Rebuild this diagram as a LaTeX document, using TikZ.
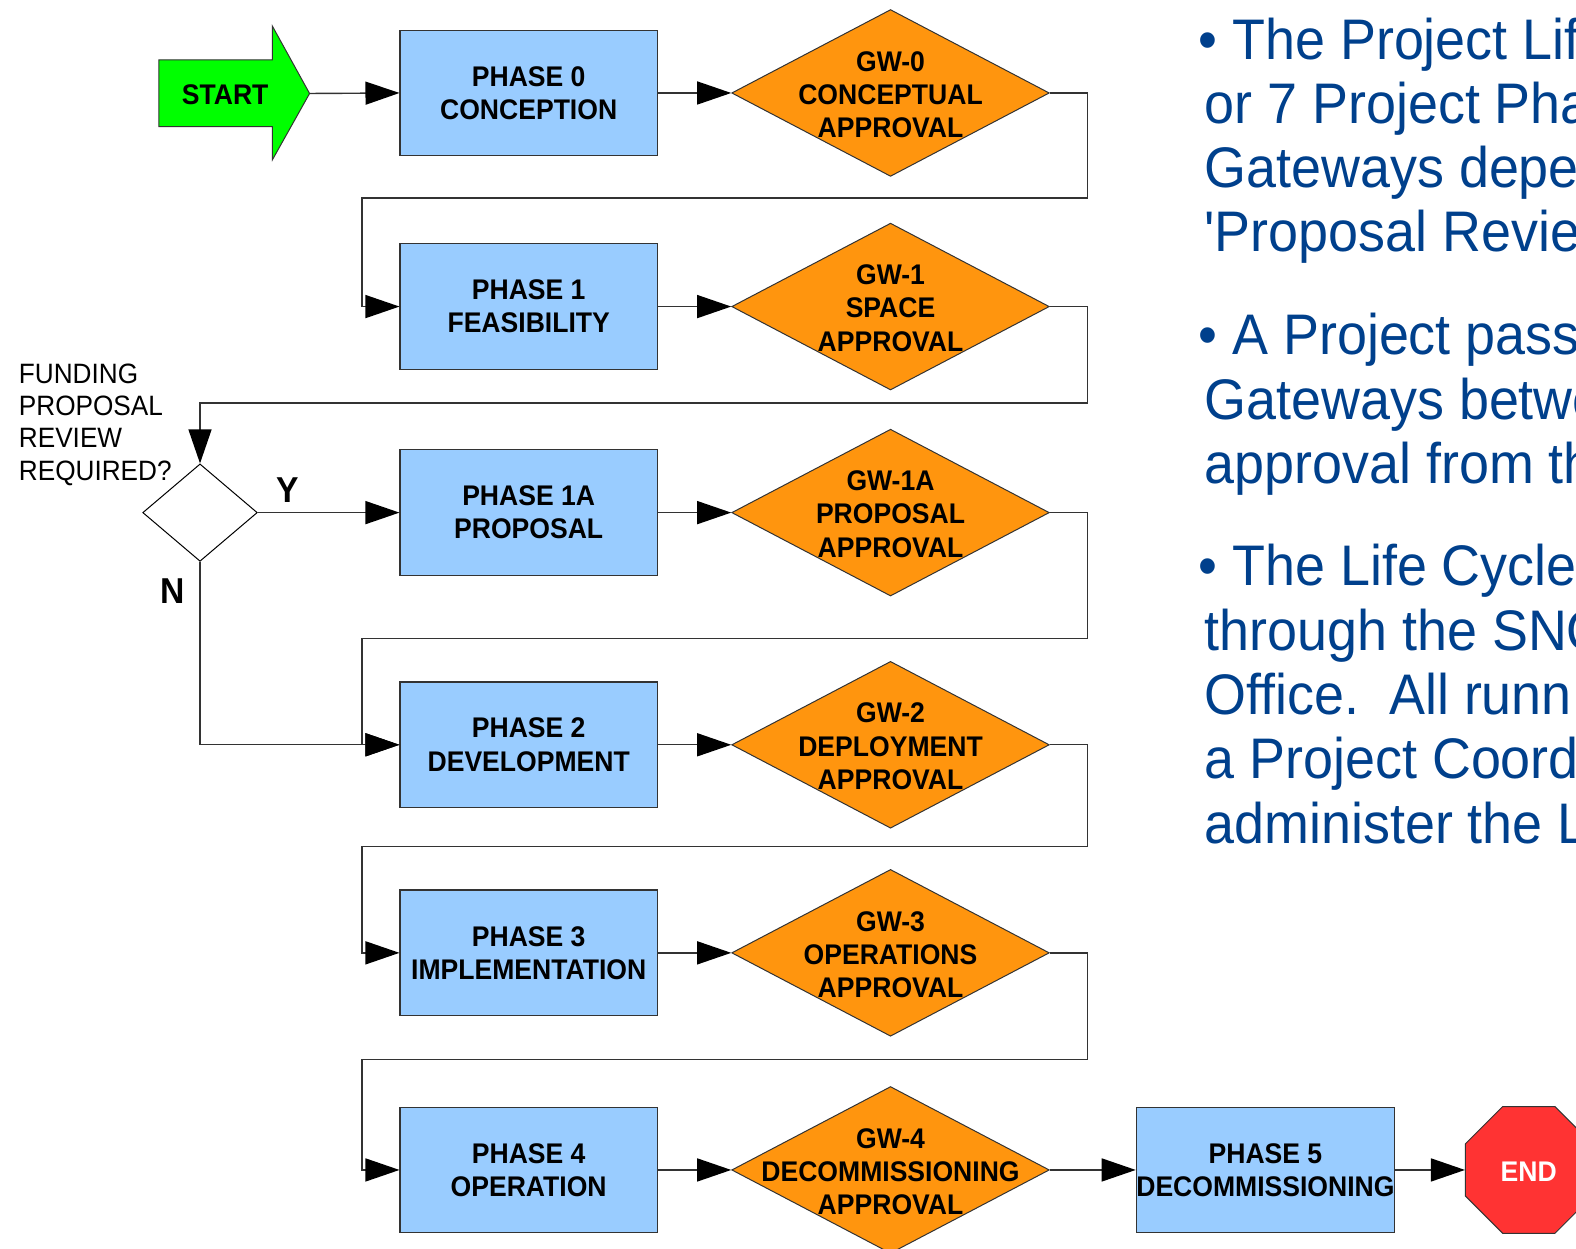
\documentclass[tikz,border=0pt]{standalone}
\usepackage{fontspec}
\usetikzlibrary{arrows.meta,shapes.geometric}
\newfontfamily\labfont[FakeStretch=0.935]{Liberation Sans}
\newfontfamily\notefont[FakeStretch=0.942,Ligatures=TeXOff]{Liberation Sans}
\definecolor{phasefill}{HTML}{99CCFF}
\definecolor{gatefill}{HTML}{FF950E}
\definecolor{startfill}{HTML}{00FF00}
\definecolor{stopfill}{HTML}{FF3333}
\definecolor{notecolor}{HTML}{00408C}
\definecolor{edgegray}{HTML}{333333}

\begin{document}
\begin{tikzpicture}[x=0.5025pt,y=-0.5025pt,
  boxfont/.style={font=\labfont\bfseries\fontsize{14.2}{16.6}\selectfont},
  phase/.style={boxfont, rectangle, draw=edgegray, line width=0.6pt, fill=phasefill,
    minimum width=128.6pt, minimum height=62.8pt, inner sep=0pt, align=center},
  gate/.style={diamond, draw=edgegray, line width=0.5pt, fill=gatefill,
    minimum width=158.8pt, minimum height=83.4pt, inner sep=0pt},
  gatetext/.style={boxfont, align=center, inner sep=0pt, yshift=-0.8pt},
  query/.style={diamond, draw=black, line width=0.5pt, fill=white,
    minimum width=57.3pt, minimum height=48.7pt, inner sep=0pt},
  qtext/.style={anchor=base west, inner sep=0pt,
    font=\labfont\fontsize{14}{16}\selectfont},
  yn/.style={inner sep=0pt, font=\labfont\bfseries\fontsize{18}{20}\selectfont},
  note/.style={anchor=base west, inner sep=0pt, text=notecolor,
    font=\notefont\fontsize{28.6}{32}\selectfont},
  conn/.style={draw=black!80, line width=0.7pt,
    -{Triangle[length=17pt,width=11.5pt,color=black]}}]

\useasboundingbox (0,0) rectangle (1568,1242);
\clip (0,0) rectangle (1568,1242);

% start arrow
\draw[fill=startfill, draw=edgegray, line width=0.5pt]
  (158,59.5) -- (271,59.5) -- (271,26) -- (308,93) -- (271,159) -- (271,126) -- (158,126) -- cycle;
\node[boxfont, inner sep=0pt] (start) at (224,94) {START};
\coordinate (starttip) at (308,93);

% phases
\node[phase] (p0)  at (526,92.5) {PHASE 0\\CONCEPTION};
\node[phase] (p1)  at (526,305)  {PHASE 1\\FEASIBILITY};
\node[phase] (p1a) at (526,510)  {PHASE 1A\\PROPOSAL};
\node[phase] (p2)  at (526,741)  {PHASE 2\\DEVELOPMENT};
\node[phase] (p3)  at (526,948)  {PHASE 3\\IMPLEMENTATION};
\node[phase] (p4)  at (526,1164) {PHASE 4\\OPERATION};
\node[phase] (p5)  at (1259,1164) {PHASE 5\\DECOMMISSIONING};

% gateways
\node[gate] (g0)  at (886,92.5) {};
\node[gate] (g1)  at (886,305)  {};
\node[gate] (g1a) at (886,510)  {};
\node[gate] (g2)  at (886,741)  {};
\node[gate] (g3)  at (886,948)  {};
\node[gate] (g4)  at (886,1164) {};
\node[gatetext] (g0t)  at (g0)  {GW-0\\CONCEPTUAL\\APPROVAL};
\node[gatetext] (g1t)  at (g1)  {GW-1\\SPACE\\APPROVAL};
\node[gatetext] (g1at) at (g1a) {GW-1A\\PROPOSAL\\APPROVAL};
\node[gatetext] (g2t)  at (g2)  {GW-2\\DEPLOYMENT\\APPROVAL};
\node[gatetext] (g3t)  at (g3)  {GW-3\\OPERATIONS\\APPROVAL};
\node[gatetext] (g4t)  at (g4)  {GW-4\\DECOMMISSIONING\\APPROVAL};

% end
\node[regular polygon, regular polygon sides=8, minimum size=68.5pt, inner sep=0pt,
  fill=stopfill, draw=edgegray, line width=0.5pt] (stop) at (1521,1164) {};
\node[boxfont, text=white, inner sep=0pt] (stopt) at (1521,1166) {END};

% funding decision
\node[query] (fund) at (199,510) {};
\node[qtext] (q1) at (18.4,381.4) {FUNDING};
\node[qtext] (q2) at (18.4,413.5) {PROPOSAL};
\node[qtext] (q3) at (18.4,445.5) {REVIEW};
\node[qtext] (q4) at (18.4,477.6) {REQUIRED?};
\node[yn] (yes) at (286,488) {Y};
\node[yn] (no)  at (172,588) {N};

% connectors
\draw[conn] (starttip) -- (p0.west);
\draw[conn] (p0.east) -- (g0.west);
\draw[conn] (g0.east) -| (1082,197) -| (360,305) -- (p1.west);
\draw[conn] (p1.east) -- (g1.west);
\draw[conn] (g1.east) -| (1082,401) -| (fund.north);
\draw[conn] (fund.east) -- (p1a.west);
\draw[conn] (fund.south) |- (p2.west);
\draw[conn] (p1a.east) -- (g1a.west);
\draw[conn] (g1a.east) -| (1082,635) -| (360,741) -- (p2.west);
\draw[conn] (p2.east) -- (g2.west);
\draw[conn] (g2.east) -| (1082,842) -| (360,948) -- (p3.west);
\draw[conn] (p3.east) -- (g3.west);
\draw[conn] (g3.east) -| (1082,1054) -| (360,1164) -- (p4.west);
\draw[conn] (p4.east) -- (g4.west);
\draw[conn] (g4.east) -- (p5.west);
\draw[conn] (p5.east) -- (stop.west);

% notes
\node[note] (n1)  at (1192,58.7)  {• The Project Lif};
\node[note] (n2)  at (1198,122.7) {or 7 Project Pha};
\node[note] (n3)  at (1198,186.7) {Gateways depe};
\node[note] (n4)  at (1198,250.7) {'Proposal Review};
\node[note] (n5)  at (1192,353)   {• A Project pass};
\node[note] (n6)  at (1198,417)   {Gateways betwe};
\node[note] (n7)  at (1198,481)   {approval from th};
\node[note] (n8)  at (1192,583)   {• The Life Cycle};
\node[note] (n9)  at (1198,647)   {through the SNO};
\node[note] (n10) at (1198,711)   {Office.\ \ All runn};
\node[note] (n11) at (1198,775)   {a Project Coord};
\node[note] (n12) at (1198,839)   {administer the L};
\end{tikzpicture}
\end{document}
